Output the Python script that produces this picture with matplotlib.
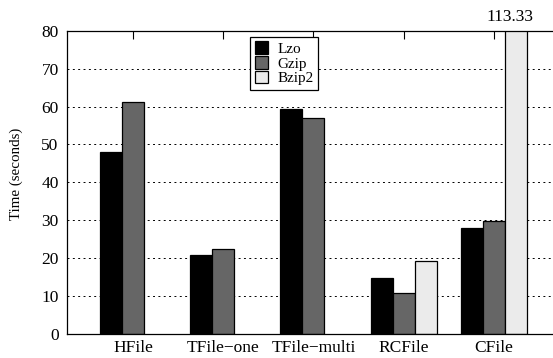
"""
Compression time per file format for the Lzo, Gzip and Bzip2 codecs.
"""
import matplotlib.pyplot as plt
import numpy as np

FORMATS = ["HFile", "TFile\u2212one", "TFile\u2212multi", "RCFile", "CFile"]
CODECS = ["Lzo", "Gzip", "Bzip2"]
LZO = [48.1, 20.8, 59.4, 14.7, 28.0]
GZIP = [61.3, 22.3, 57.1, 10.7, 29.7]
BZIP2 = [np.nan, np.nan, np.nan, 19.3, 113.33]
COLORS = ["#000000", "#666666", "#ebebeb"]
Y_MAX = 80


def main() -> None:
    plt.rcParams["font.family"] = ["Liberation Serif", "DejaVu Serif"]
    plt.rcParams["font.size"] = 12.5

    fig = plt.figure(figsize=(5.53, 3.58), dpi=100)
    ax = fig.add_axes([67 / 553, 1 - 334 / 358, 1 - 67 / 553, (334 - 30.7) / 358])

    x = np.arange(len(FORMATS))
    width = 0.244
    series = [LZO, GZIP, BZIP2]
    for i, (name, values, color) in enumerate(zip(CODECS, series, COLORS)):
        ax.bar(x + (i - 1) * width, values, width, color=color,
               edgecolor="black", linewidth=0.9, label=name, zorder=2)

    # Bzip2 on CFile runs off the top, so print its value above the frame
    for xi, v in zip(x, BZIP2):
        if not np.isnan(v) and v > Y_MAX:
            ax.text(xi + width - 0.07, Y_MAX + 1.6, f"{v:.2f}", ha="center",
                    va="bottom", clip_on=False)

    ax.set_xlim(-0.733, 4 + 59 / 90)
    ax.set_ylim(0, Y_MAX)
    ax.set_yticks(range(0, 81, 10))
    ax.set_xticks(x)
    ax.set_xticklabels(FORMATS)
    ax.set_ylabel("Time (seconds)", fontsize=10.8)
    ax.yaxis.set_label_coords(-0.09, 0.528)

    ax.yaxis.grid(True, color="black", linestyle=(0, (2, 3.5)), linewidth=0.7)
    ax.set_axisbelow(True)
    ax.spines["right"].set_visible(False)
    for side in ("left", "top", "bottom"):
        ax.spines[side].set_linewidth(0.9)
    ax.tick_params(axis="x", direction="in", length=6, top=True, pad=4)
    ax.tick_params(axis="y", direction="in", length=0, pad=6)

    leg = ax.legend(loc="upper left", bbox_to_anchor=((250 - 67) / 486, 1 - 6 / 303),
                    frameon=True, fancybox=False, framealpha=1, edgecolor="black",
                    fontsize=11, handlelength=0.9, handleheight=0.9,
                    handletextpad=0.6, labelspacing=0.0, borderpad=0.3,
                    borderaxespad=0)
    leg.get_frame().set_linewidth(0.9)

    fig.savefig("out.png", dpi=100)


if __name__ == "__main__":
    main()
